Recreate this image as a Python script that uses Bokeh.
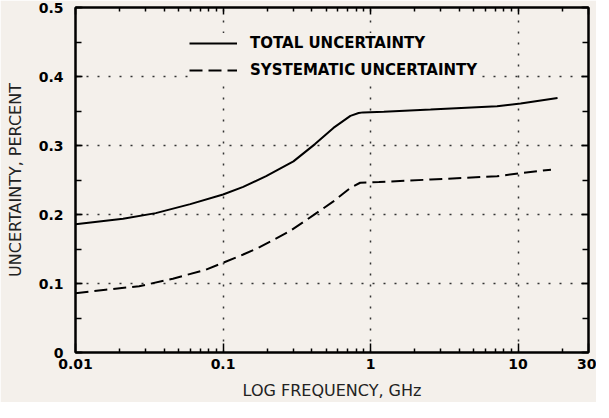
from bokeh.plotting import figure
from bokeh.models import (LogAxis, LinearAxis, FixedTicker, SingleIntervalTicker,
                          CustomJSTickFormatter, Legend)
from bokeh.embed import file_html
from bokeh.resources import INLINE

# ---- data ----
freq_total = [0.01, 0.021, 0.035, 0.06, 0.1, 0.137, 0.196, 0.3, 0.42, 0.56, 0.73,
              0.83, 0.89, 1.23, 2.55, 7.2, 10.4, 18.5]
total_unc = [0.186, 0.194, 0.202, 0.215, 0.229, 0.240, 0.2555, 0.277, 0.302, 0.3255, 0.343,
             0.347, 0.348, 0.349, 0.352, 0.357, 0.361, 0.369]
freq_sys = [0.01, 0.016, 0.027, 0.0457, 0.0766, 0.1, 0.137, 0.177, 0.284, 0.41, 0.56,
            0.73, 0.85, 1.14, 2.55, 7.2, 10.4, 16.7]
sys_unc = [0.086, 0.091, 0.096, 0.107, 0.120, 0.130, 0.142, 0.1526, 0.176, 0.199, 0.219,
           0.2386, 0.246, 0.247, 0.2507, 0.2555, 0.260, 0.265]

x_major = [0.01, 0.1, 1, 10, 30]
x_minor = [0.02, 0.03, 0.04, 0.05, 0.06, 0.07, 0.08, 0.09,
           0.2, 0.3, 0.4, 0.5, 0.6, 0.7, 0.8, 0.9,
           2, 3, 4, 5, 6, 7, 8, 9, 20]
x_grid = [0.1, 1, 10]
y_grid = [0.1, 0.2, 0.3, 0.4]

labels = ["TOTAL UNCERTAINTY", "SYSTEMATIC UNCERTAINTY"]

BG = "#f4f0eb"
FONT = "DejaVu Sans"

p = figure(width=596, height=402, x_axis_type="log", x_range=(0.01, 30), y_range=(0, 0.5),
           output_backend="svg", toolbar_location=None,
           min_border_left=75, min_border_right=8, min_border_top=7, min_border_bottom=48,
           background_fill_color=BG, border_fill_color=BG)

p.outline_line_color = "black"
p.outline_line_width = 2

xfmt = CustomJSTickFormatter(code="return tick.toString();")
yfmt = CustomJSTickFormatter(code="return tick == 0 ? '0' : tick.toFixed(1);")
blank = CustomJSTickFormatter(code="return '';")

def style_axis(ax, major_in, minor_in):
    ax.axis_line_color = "black"
    ax.axis_line_width = 2
    ax.major_tick_in = major_in
    ax.major_tick_out = 0
    ax.minor_tick_in = minor_in
    ax.minor_tick_out = 0
    ax.major_tick_line_width = 1.5
    ax.minor_tick_line_width = 1.5
    ax.major_tick_line_color = "black"
    ax.minor_tick_line_color = "black"
    ax.major_label_text_font = FONT
    ax.major_label_text_font_style = "bold"
    ax.major_label_text_font_size = "14px"
    ax.major_label_text_color = "black"
    ax.axis_label_text_font = FONT
    ax.axis_label_text_font_style = "normal"
    ax.axis_label_text_font_size = "16px"
    ax.axis_label_text_color = "#222"

xa = p.xaxis[0]
xa.ticker = FixedTicker(ticks=x_major, minor_ticks=x_minor)
xa.formatter = xfmt
xa.axis_label = "LOG FREQUENCY, GHz"
style_axis(xa, 9, 4)
xa.major_label_standoff = 6
xa.axis_label_standoff = 9

ya = p.yaxis[0]
ya.ticker = SingleIntervalTicker(interval=0.1, num_minor_ticks=2)
ya.formatter = yfmt
ya.axis_label = "UNCERTAINTY, PERCENT"
style_axis(ya, 7, 6)
ya.major_label_standoff = 12
ya.axis_label_standoff = 11

top = LogAxis(ticker=FixedTicker(ticks=x_major, minor_ticks=x_minor), formatter=blank)
style_axis(top, 7, 4)
top.major_label_standoff = 0
top.axis_label_standoff = 0
p.add_layout(top, "above")

right = LinearAxis(ticker=SingleIntervalTicker(interval=0.1, num_minor_ticks=2), formatter=blank)
style_axis(right, 7, 6)
right.major_label_standoff = 0
right.axis_label_standoff = 0
p.add_layout(right, "right")

p.xgrid.ticker = FixedTicker(ticks=x_grid)
p.ygrid.ticker = FixedTicker(ticks=y_grid)
for g in (p.xgrid, p.ygrid):
    g.grid_line_color = "#333333"
    g.grid_line_dash = "2 9"
    g.grid_line_width = 1.5

r1 = p.line(freq_total, total_unc, line_color="black", line_width=2)
r2 = p.line(freq_sys, sys_unc, line_color="black", line_width=2, line_dash="13 6")

legend = Legend(items=[(labels[0], [r1]), (labels[1], [r2])], location=(114, 272))
legend.background_fill_color = BG
legend.background_fill_alpha = 1
legend.border_line_color = None
legend.padding = 5
legend.margin = 0
legend.spacing = 7
legend.glyph_width = 48
legend.glyph_height = 20
legend.label_height = 20
legend.label_standoff = 13
legend.label_text_font = FONT
legend.label_text_font_style = "bold"
legend.label_text_font_size = "15px"
legend.label_text_color = "black"
p.add_layout(legend)

open("out.html", "w").write(file_html(p, INLINE))
